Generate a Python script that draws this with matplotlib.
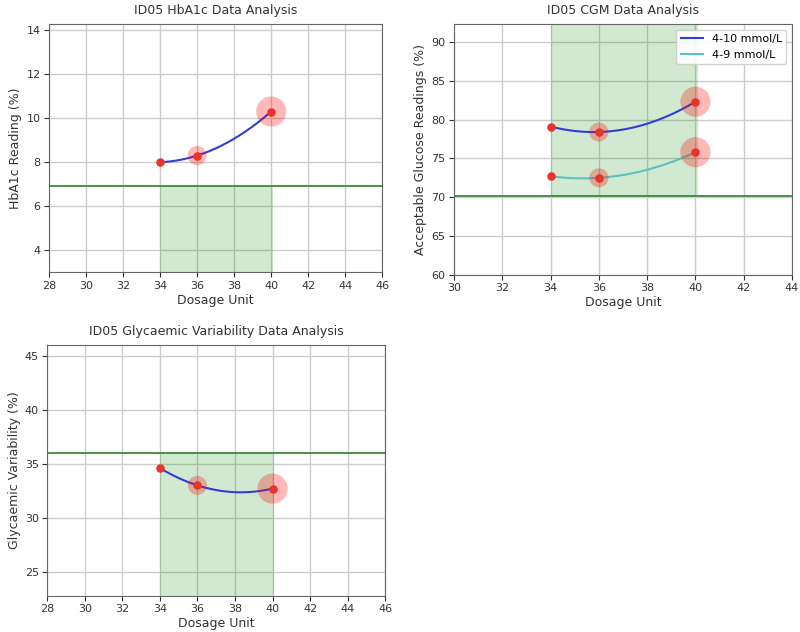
import numpy as np
import matplotlib
matplotlib.use('Agg')
import matplotlib.pyplot as plt

# --- Data ---
dosage = [34, 36, 40]

hba1c = [8.0, 8.3, 10.3]
hba1c_target = 6.9

cgm_4_10 = [79.1, 78.4, 82.3]
cgm_4_9 = [72.7, 72.5, 75.8]
cgm_target = 70.1

gv = [34.6, 33.0, 32.7]
gv_target = 36.0

# halo size for each dosage point (larger = more data)
halo_sizes = [0, 190, 470]

span_start, span_end = 34, 40.1

plt.rcParams['font.family'] = ['DejaVu Sans']
plt.rcParams['font.size'] = 9

fig = plt.figure(figsize=(8, 6.32), dpi=100)

ax1 = fig.add_axes([0.061, 0.569, 0.417, 0.393])
ax2 = fig.add_axes([0.5675, 0.565, 0.4225, 0.397])
ax3 = fig.add_axes([0.059, 0.057, 0.4225, 0.397])


def smooth_curve(ax, x, y, color, label=None):
    coeffs = np.polyfit(x, y, 2)
    xs = np.linspace(min(x), max(x), 200)
    ax.plot(xs, np.polyval(coeffs, xs), color=color, linewidth=1.5, label=label, zorder=3)
    ax.scatter(x, y, s=halo_sizes, color='red', alpha=0.28, linewidths=0, zorder=4)
    ax.scatter(x, y, s=38, color='#e8352b', linewidths=0, zorder=5)


def style(ax, title, ylabel, xlim, ylim):
    ax.set_title(title, fontsize=9, color='#333333', pad=7)
    ax.set_xlabel('Dosage Unit', fontsize=9, color='#333333', labelpad=2)
    ax.set_ylabel(ylabel, fontsize=9, color='#333333', labelpad=3)
    ax.set_xlim(*xlim)
    ax.set_ylim(*ylim)
    ax.grid(True, color='#cccccc', linewidth=1)
    ax.set_axisbelow(True)
    ax.tick_params(colors='#333333', labelsize=8, pad=2.5)
    for s in ax.spines.values():
        s.set_color('#666666')


# --- HbA1c ---
ax1.axhline(hba1c_target, color='#3a8a3a', linewidth=1.3, zorder=2)
ax1.fill_between([span_start, span_end], 3.0, hba1c_target, color='green', alpha=0.18, linewidth=0, zorder=1)
smooth_curve(ax1, dosage, hba1c, '#2f3fd6')
style(ax1, 'ID05 HbA1c Data Analysis', 'HbA1c Reading (%)', (28, 46), (3.0, 14.27))
ax1.set_xticks(range(28, 47, 2))
ax1.set_yticks(range(4, 15, 2))

# --- CGM ---
ax2.axhline(cgm_target, color='#3a8a3a', linewidth=1.3, zorder=2)
ax2.fill_between([span_start, span_end], cgm_target, 92.3, color='green', alpha=0.18, linewidth=0, zorder=1)
smooth_curve(ax2, dosage, cgm_4_10, '#2f3fd6', label='4-10 mmol/L')
smooth_curve(ax2, dosage, cgm_4_9, '#5bc2bd', label='4-9 mmol/L')
style(ax2, 'ID05 CGM Data Analysis', 'Acceptable Glucose Readings (%)', (30, 44), (60, 92.3))
ax2.set_xticks(range(30, 45, 2))
ax2.set_yticks(range(60, 91, 5))
ax2.legend(loc='upper right', fontsize=8, framealpha=0.9)

# --- Glycaemic Variability ---
ax3.axhline(gv_target, color='#3a8a3a', linewidth=1.3, zorder=2)
ax3.fill_between([span_start, span_end], 22.75, gv_target, color='green', alpha=0.18, linewidth=0, zorder=1)
smooth_curve(ax3, dosage, gv, '#2f3fd6')
style(ax3, 'ID05 Glycaemic Variability Data Analysis', 'Glycaemic Variability (%)', (28, 46), (22.75, 46.0))
ax3.set_xticks(range(28, 47, 2))
ax3.set_yticks(range(25, 46, 5))

plt.savefig('out.png', dpi=100)
